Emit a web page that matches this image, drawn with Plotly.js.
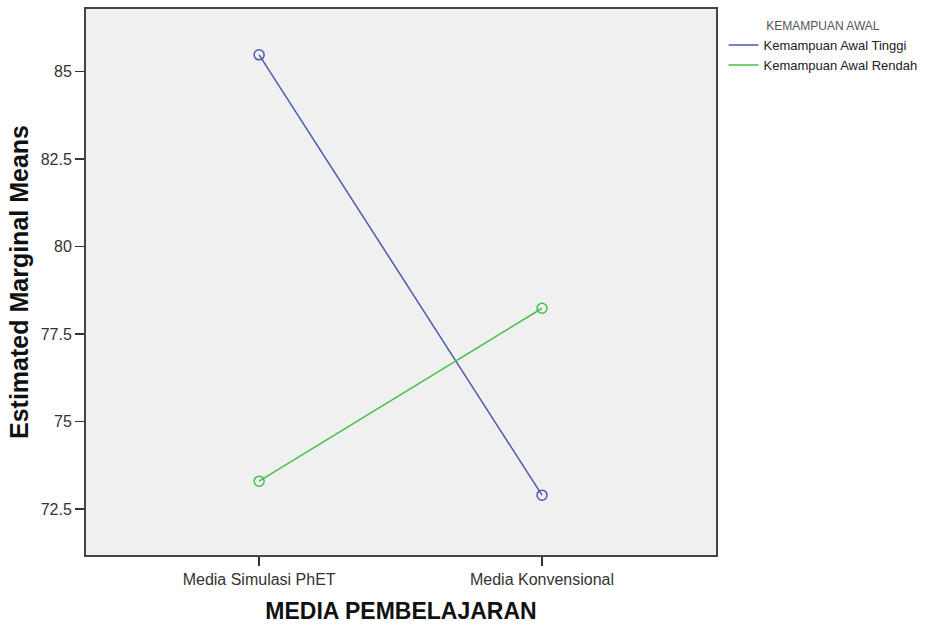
<!DOCTYPE html>
<html>
<head>
<meta charset="utf-8">
<script src="https://cdn.plot.ly/plotly-3.0.1.min.js"></script>
<style>html,body{margin:0;padding:0;background:#fff;}#chart{width:934px;height:628px;}</style>
</head>
<body>
<div id="chart"></div>
<script>
var categories = ["Media Simulasi PhET", "Media Konvensional"];
var seriesNames = ["Kemampuan Awal Tinggi", "Kemampuan Awal Rendah"];
var tinggiValues = [85.48, 72.90];
var rendahValues = [73.30, 78.24];
var yTickVals = [72.5, 75, 77.5, 80, 82.5, 85];
var yTickText = ["72.5", "75", "77.5", "80", "82.5", "85"];
var seriesColors = ['#4a5aae', '#45c045'];

var xIdx = categories.map(function(c, i){ return i; });
var seriesValues = [tinggiValues, rendahValues];

var traces = [];
seriesValues.forEach(function(vals, i){
  traces.push({x: xIdx, y: vals, name: seriesNames[i], legendgroup: 'g' + i,
    type: 'scatter', mode: 'lines', line: {color: seriesColors[i], width: 1.5}});
});
seriesValues.forEach(function(vals, i){
  traces.push({x: xIdx, y: vals, name: seriesNames[i], legendgroup: 'g' + i, showlegend: false,
    type: 'scatter', mode: 'markers',
    marker: {symbol: 'circle-open', size: 10, color: seriesColors[i], line: {width: 1.5}}});
});

var layout = {
  width: 934, height: 628,
  margin: {l: 86, r: 218, t: 9, b: 73},
  paper_bgcolor: '#ffffff',
  plot_bgcolor: '#f0f0f0',
  font: {family: '"Liberation Sans", Arial, sans-serif', size: 12, color: '#333'},
  showlegend: true,
  legend: {
    x: 1.012, y: 0.99, xanchor: 'left', yanchor: 'top',
    bgcolor: 'rgba(0,0,0,0)',
    font: {size: 13, color: '#222'},
    tracegroupgap: 0,
    itemwidth: 30,
    title: {text: 'KEMAMPUAN AWAL', side: 'top center', font: {size: 12, color: '#555'}}
  },
  xaxis: {
    range: [-0.612, 1.615],
    tickmode: 'array', tickvals: xIdx, ticktext: categories,
    ticks: 'outside', ticklen: 9, tickwidth: 1.5, tickcolor: '#333',
    showline: true, mirror: true, linecolor: '#444', linewidth: 2,
    showgrid: false, zeroline: false,
    tickfont: {size: 16, color: '#333'},
    title: {text: 'MEDIA PEMBELAJARAN', standoff: 16,
            font: {size: 23, color: '#111', family: '"Liberation Sans", Arial, sans-serif', weight: 'bold'}}
  },
  yaxis: {
    range: [71.19, 86.79],
    tickmode: 'array', tickvals: yTickVals, ticktext: yTickText,
    ticks: 'outside', ticklen: 9, tickwidth: 1.5, tickcolor: '#333',
    showline: true, mirror: true, linecolor: '#444', linewidth: 2,
    showgrid: false, zeroline: false,
    tickfont: {size: 16, color: '#333'},
    title: {text: 'Estimated Marginal Means', standoff: 5,
            font: {size: 25, color: '#111', family: '"Liberation Sans", Arial, sans-serif', weight: 'bold'}}
  }
};

Plotly.newPlot('chart', traces, layout, {displayModeBar: false, staticPlot: true});
</script>
</body>
</html>
